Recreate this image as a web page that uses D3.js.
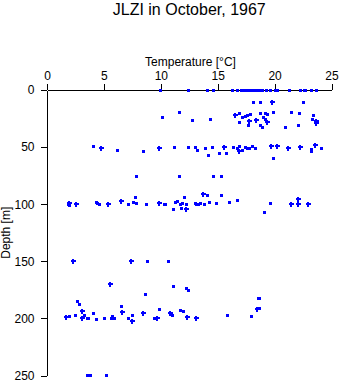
<!DOCTYPE html>
<html>
<head>
<meta charset="utf-8">
<script src="https://cdn.jsdelivr.net/npm/d3@7"></script>
<style>
  body { margin: 0; background: #fff; }
  svg text { font-family: "Liberation Sans", Arial, sans-serif; fill: #000; }
</style>
</head>
<body>
<div id="chart"></div>
<script>
const width = 341;
const height = 384;

const title = "JLZI in October, 1967";
const xLabel = "Temperature [\u00B0C]";
const yLabel = "Depth [m]";
const xTicks = [0, 5, 10, 15, 20, 25];
const yTicks = [0, 50, 100, 150, 200, 250];

// [temperature °C, depth m], drawn as small squares
const squarePoints = [
  // surface
  [9.93, 0], [12.42, 0], [14.03, 0], [14.62, 0], [16.23, 0], [16.70, 0], [17.08, 0],
  [17.31, 0], [17.52, 0], [17.72, 0], [17.93, 0], [18.14, 0], [18.34, 0], [18.54, 0],
  [18.78, 0], [18.93, 0], [19.28, 0], [19.63, 0], [20.07, 0], [20.25, 0], [21.24, 0],
  [22.21, 0], [22.56, 0], [22.71, 0], [23.23, 0], [23.64, 0],
  // 10-35 m
  [18.11, 10.8], [18.72, 10.8], [22.5, 10.8],
  [11.6, 19.5], [10.08, 23.3], [12.74, 26.3], [14.33, 25.4], [16.87, 19.8], [17.17, 23.9],
  [17.37, 22.5], [17.61, 21.9], [17.81, 21.0], [16.87, 28.3], [17.64, 30.6], [18.72, 20.4],
  [19.16, 19.8], [19.33, 20.7], [19.86, 19.5], [18.98, 23.9], [19.16, 25.7], [18.72, 30.9],
  [18.87, 32.7], [20.92, 32.1], [21.45, 19.5], [22.12, 20.4], [23.38, 21.6], [23.29, 25.1],
  [22.06, 30.4],
  // ~50 m
  [4.05, 49.3], [6.15, 52.3], [8.41, 53.7], [11.19, 50.2], [12.39, 50.2], [13.0, 50.2],
  [13.18, 52.3], [13.88, 51.1], [14.15, 56.6], [14.53, 50.2], [15.11, 55.5], [15.73, 55.5],
  [16.34, 50.2], [16.7, 50.8], [16.85, 48.7], [17.11, 52.3], [17.43, 50.2], [17.61, 51.1],
  [17.78, 51.1], [18.05, 49.3], [18.28, 51.1], [19.86, 59.8], [23.17, 53.1], [23.23, 51.7],
  [24.08, 51.1],
  // ~75 m
  [7.82, 75.3], [11.6, 75.3], [14.59, 75.3], [15.29, 75.3],
  // ~100 m
  [1.86, 99.6], [1.94, 100.4], [4.31, 98.1], [4.43, 99.2], [4.54, 100.1], [7.15, 100.1],
  [7.56, 98.3], [7.74, 94.0], [7.85, 99.2], [8.7, 100.1], [10.25, 100.1], [10.37, 99.8],
  [11.07, 103.9], [11.22, 98.3], [11.42, 97.5], [11.66, 100.1], [11.78, 103.3], [11.9, 99.2],
  [12.04, 94.0], [12.22, 100.1], [13.0, 99.2], [13.13, 100.1], [13.27, 99.8], [13.48, 99.2],
  [13.8, 100.1], [14.06, 92.2], [14.24, 98.3], [14.85, 99.2], [15.29, 92.2], [15.99, 98.3],
  [16.7, 96.6], [19.07, 106.8], [19.6, 99.2],
  // ~150 m
  [8.79, 150], [10.63, 150],
  // 170-205 m
  [8.61, 178.6], [11.07, 171.9], [12.21, 173.6], [12.39, 175.1], [2.64, 185.0], [2.81, 187.7],
  [3.25, 196.7], [2.46, 196.7], [1.93, 198.2], [3.51, 199.9], [3.63, 199.9], [4.04, 195.5],
  [4.31, 200.8], [5.01, 199.9], [5.62, 199.9], [5.71, 198.2], [5.89, 199.9], [6.5, 189.1],
  [7.12, 199.9], [7.47, 197.3], [9.4, 199.9], [9.84, 192.0], [10.98, 196.7], [11.69, 192.9],
  [11.95, 193.8], [15.82, 197.0], [17.93, 198.2], [18.63, 191.2], [18.63, 181.8], [18.55, 182.5],
  // 250 m
  [3.55, 249.8], [3.8, 249.8], [5.18, 249.8]
];

// [temperature °C, depth m], drawn as small crosses
const plusPoints = [
  [19.8, 10.8],
  [16.49, 21.6], [17.72, 26.9], [18.4, 26.3], [19.37, 28.3], [23.61, 26.9], [23.61, 29.2],
  [4.72, 51.1], [9.82, 50.8], [15.53, 50.2], [16.91, 53.1], [19.72, 49.3], [20.18, 49.3],
  [21.21, 51.1], [22.21, 50.2], [23.52, 48.4],
  [1.91, 99.2], [2.52, 100.1], [5.33, 100.1], [6.48, 97.5], [9.82, 99.2], [12.19, 104.5],
  [13.68, 91.3], [21.47, 100.1], [22.03, 95.7], [22.03, 100.1], [22.97, 100.1],
  [2.32, 150], [7.41, 150],
  [5.57, 169.9], [3.11, 193.8], [1.7, 199.1], [3.11, 199.9], [6.56, 194.7], [7.44, 202.5],
  [8.41, 195.5], [9.64, 199.9], [10.81, 195.5], [12.28, 199.1], [13.07, 199.9], [18.49, 192.0]
];

const margin = { top: 90, left: 47 };
const plotW = 284.5;
const plotH = 285.5;
const blue = "#0000ff";

const svg = d3.select("#chart").append("svg").attr("width", width).attr("height", height);

const x = d3.scaleLinear().domain([0, 25]).range([0, plotW]);
const y = d3.scaleLinear().domain([0, 250]).range([0, plotH]);

const g = svg.append("g").attr("transform", `translate(${margin.left},${margin.top})`);

// axes
const xAxis = g
  .append("g")
  .call(d3.axisTop(x).tickValues(xTicks).tickSize(6).tickSizeOuter(0).tickPadding(4));
const yAxis = g
  .append("g")
  .call(d3.axisLeft(y).tickValues(yTicks).tickSize(6).tickSizeOuter(0).tickPadding(6.5));

[xAxis, yAxis].forEach((a) => {
  a.attr("font-size", 12).attr("font-family", null);
  a.selectAll("path, line").attr("stroke", "#000").attr("shape-rendering", "crispEdges");
});

// points
g.selectAll("rect.sq")
  .data(squarePoints)
  .enter()
  .append("rect")
  .attr("class", "sq")
  .attr("x", (d) => Math.round(x(d[0])) - 1)
  .attr("y", (d) => Math.round(y(d[1])) - 1)
  .attr("width", 3)
  .attr("height", 3)
  .attr("fill", blue)
  .attr("shape-rendering", "crispEdges");

g.selectAll("path.plus")
  .data(plusPoints)
  .enter()
  .append("path")
  .attr("class", "plus")
  .attr("d", (d) => {
    const cx = Math.round(x(d[0]));
    const cy = Math.round(y(d[1]));
    return `M${cx - 2},${cy - 1}h5v2h-5z M${cx - 1},${cy - 2}h2v5h-2z`;
  })
  .attr("fill", blue)
  .attr("shape-rendering", "crispEdges");

// labels
svg.append("text")
  .attr("x", margin.left + plotW / 2)
  .attr("y", 15)
  .attr("text-anchor", "middle")
  .attr("font-size", 16)
  .text(title);

svg.append("text")
  .attr("x", 190.5)
  .attr("y", 66)
  .attr("text-anchor", "middle")
  .attr("font-size", 12)
  .text(xLabel);

svg.append("text")
  .attr("transform", `translate(10,${margin.top + plotH / 2}) rotate(-90)`)
  .attr("text-anchor", "middle")
  .attr("font-size", 12)
  .text(yLabel);
</script>
</body>
</html>
